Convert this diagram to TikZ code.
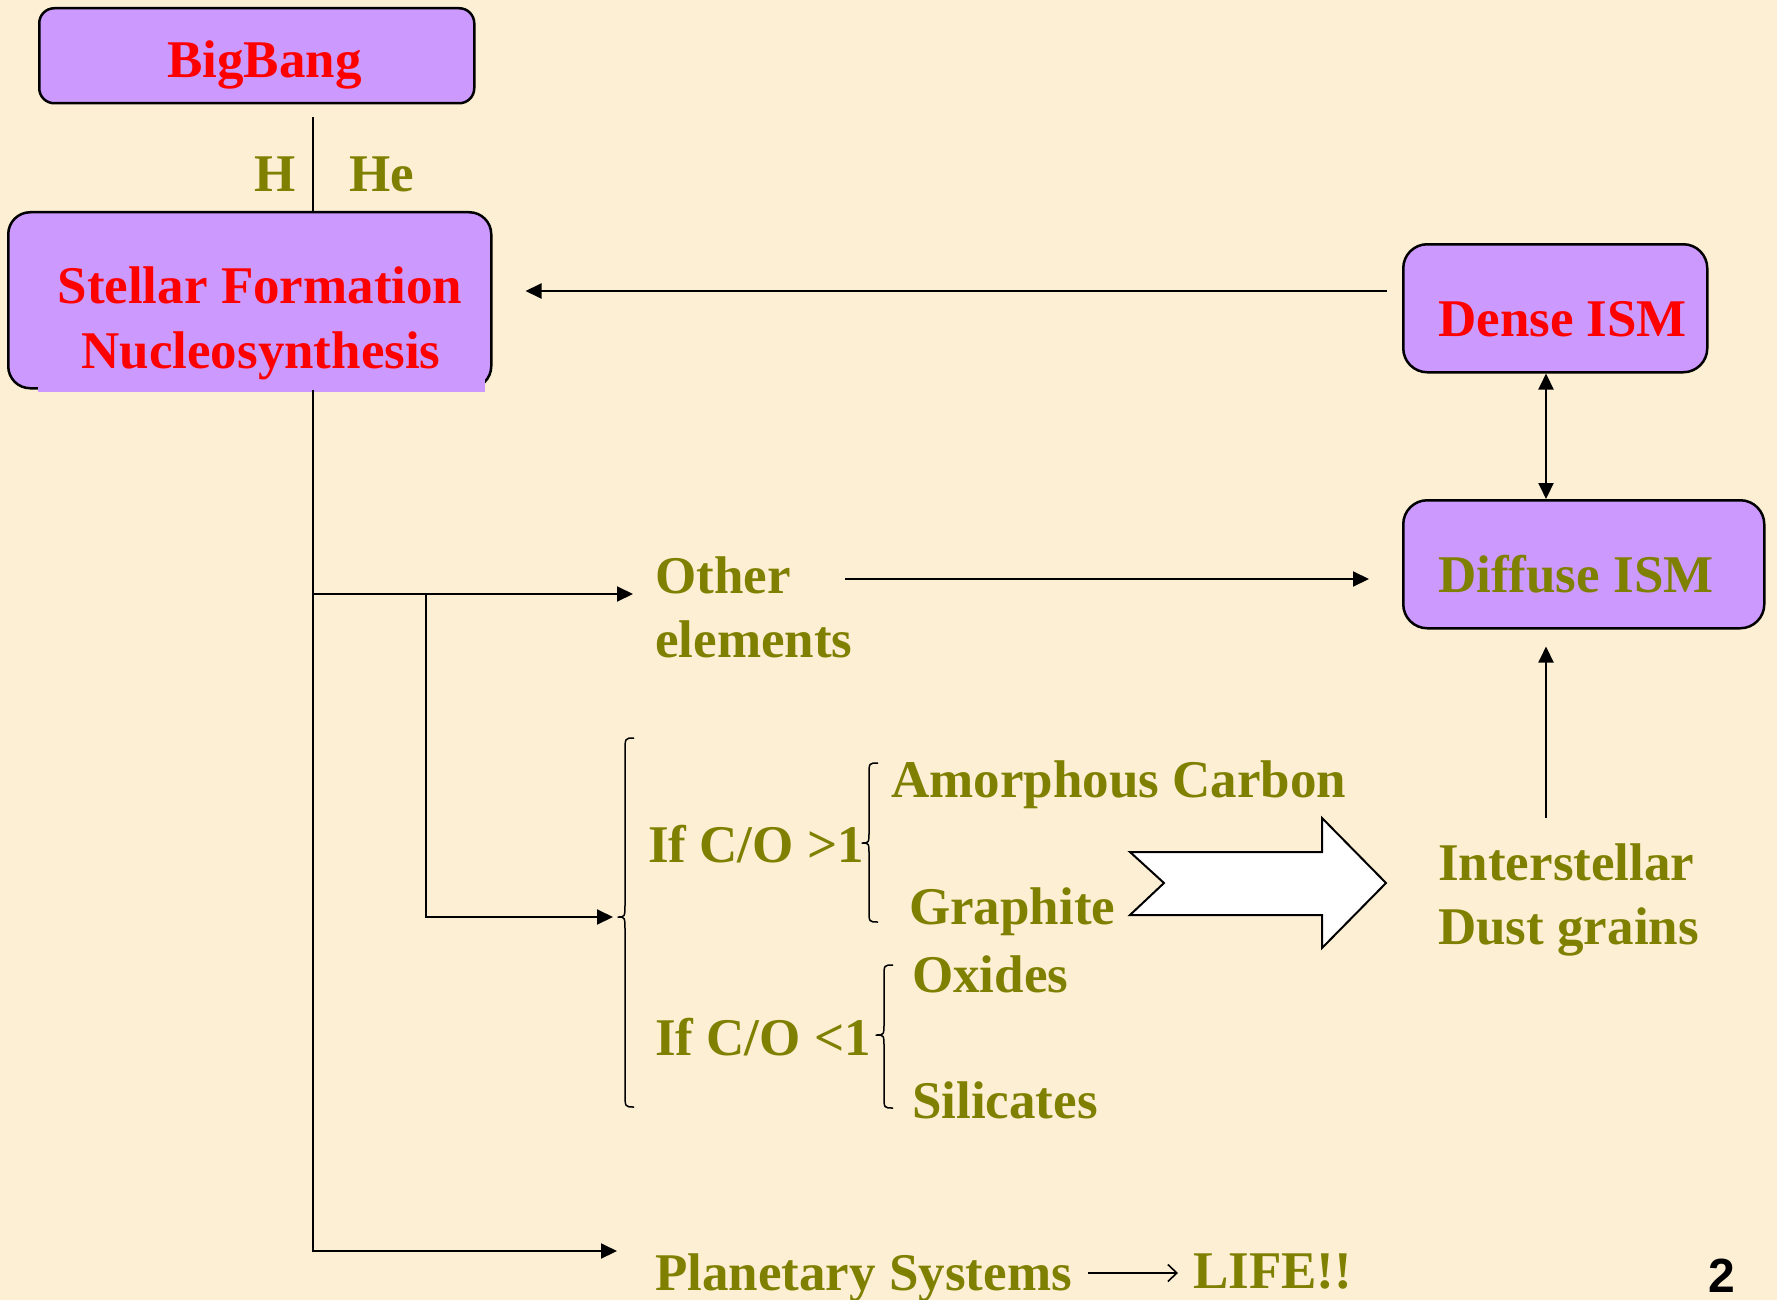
\documentclass[tikz,border=0pt]{standalone}
\usepackage{fontspec}
\setmainfont{Liberation Serif}
\setsansfont{Liberation Sans}
\usetikzlibrary{arrows.meta}
\definecolor{bgcream}{HTML}{FCEFD4}
\definecolor{boxpurple}{HTML}{CC99FF}
\definecolor{olivetext}{HTML}{808000}
\definecolor{redtext}{HTML}{FF0000}
\begin{document}
\begin{tikzpicture}[x=1pt,y=-1pt,
  box/.style={draw=black, line width=2.5pt, fill=boxpurple, inner sep=0pt, anchor=north west},
  lbl/.style={inner sep=0pt, anchor=base west, font=\fontsize{53}{64}\selectfont\bfseries},
  redlbl/.style={lbl, text=redtext},
  olvlbl/.style={lbl, text=olivetext},
  conn/.style={line width=2pt},
  arr/.style={conn, -{Triangle[length=16pt,width=15pt]}},
  dblarr/.style={conn, {Triangle[length=16pt,width=15pt]}-{Triangle[length=16pt,width=15pt]}},
  thinarr/.style={line width=1.6pt, -{Straight Barb[length=9pt,width=17pt,line width=1.6pt]}},
  bracepath/.style={line width=1.5pt, line join=round},
]
\useasboundingbox (0,0) rectangle (1777,1300);
\fill[bgcream] (0,0) rectangle (1777,1300);

% boxes
\node[box, rounded corners=15pt, minimum width=435pt, minimum height=95pt] (bigbang) at (38,7) {};
\node[box, rounded corners=22pt, minimum width=483pt, minimum height=176pt] (stellar) at (7,211) {};
\fill[boxpurple] (38,300) rectangle (485,392);
\node[box, rounded corners=24pt, minimum width=304pt, minimum height=128pt] (dense) at (1402,243) {};
\node[box, rounded corners=24pt, minimum width=361pt, minimum height=128pt] (diffuse) at (1402,499) {};

% texts
\node[redlbl] (bbText) at (167,78) {BigBang};
\node[olvlbl] (hText) at (254,192) {H};
\node[olvlbl] (heText) at (349,192) {He};
\node[redlbl, anchor=base] (stA) at (260,303) {Stellar Formation};
\node[redlbl, anchor=base] (stB) at (261,368) {Nucleosynthesis};
\node[redlbl] (denseText) at (1438,336) {Dense ISM};
\node[olvlbl] (diffText) at (1438,592) {Diffuse ISM};
\node[olvlbl] (otherA) at (655,593) {Other};
\node[olvlbl] (otherB) at (655,657) {elements};
\node[olvlbl] (coGt) at (648,862) {If C/O >1};
\node[olvlbl] (coLt) at (655,1055) {If C/O <1};
\node[olvlbl] (amorph) at (891,797) {Amorphous Carbon};
\node[olvlbl] (graph) at (909,924) {Graphite};
\node[olvlbl] (oxid) at (912,992) {Oxides};
\node[olvlbl] (silic) at (912,1118) {Silicates};
\node[olvlbl] (interA) at (1438,880) {Interstellar};
\node[olvlbl] (interB) at (1438,944) {Dust grains};
\node[olvlbl] (planA) at (655,1290) {Planetary Systems};
\node[olvlbl] (lifeA) at (1193,1288) {LIFE!!};
\node[inner sep=0pt, anchor=base west, font=\fontsize{48}{58}\selectfont\sffamily\bfseries] (pagenum) at (1708,1292) {2};

% helper coordinates
\coordinate (jOther) at (313,594);
\coordinate (jSub) at (426,594);
\coordinate (jPlan) at (313,1251);
\coordinate (braceTip) at (618,917);
\coordinate (yTop) at (0,291);
\coordinate (yOE) at (0,579);
\coordinate (xISM) at (1546,0);
\coordinate (interTop) at (1546,818);
\coordinate (yLife) at (0,1273);

% connectors
\draw[conn, shorten <=13pt] (bigbang.south -| jOther) -- (stellar.north -| jOther);
\draw[arr, shorten >=38pt] (stellar.south -| jPlan) -- (jPlan) -- (planA.west |- jPlan);
\draw[arr, shorten >=22pt] (jOther) -- (otherA.west |- jOther);
\draw[arr, shorten >=5pt] (jSub) |- (braceTip);
\draw[arr, shorten <=15pt, shorten >=33pt] (dense.west |- yTop) -- (stellar.east |- yTop);
\draw[dblarr] (dense.south -| xISM) -- (diffuse.north -| xISM);
\draw[arr, shorten <=54pt, shorten >=33pt] (otherA.east |- yOE) -- (diffuse.west |- yOE);
\draw[arr, shorten >=17pt] (interTop) -- (diffuse.south -| xISM);
\draw[thinarr, shorten <=16pt, shorten >=15pt] (planA.east |- yLife) -- (lifeA.west |- yLife);

% braces
\draw[bracepath] (634,738) .. controls (625,738) .. (625,752) -- (625,903)
  .. controls (625,917) .. (618,917) .. controls (625,917) .. (625,931)
  -- (625,1093) .. controls (625,1107) .. (634,1107);
\draw[bracepath] (878,763) .. controls (869,763) .. (869,775) -- (869,831)
  .. controls (869,843) .. (862,843) .. controls (869,843) .. (869,855)
  -- (869,910) .. controls (869,922) .. (878,922);
\draw[bracepath] (893,965) .. controls (884,965) .. (884,977) -- (884,1023)
  .. controls (884,1035) .. (876,1035) .. controls (884,1035) .. (884,1047)
  -- (884,1096) .. controls (884,1108) .. (893,1108);

% block arrow
\draw[line width=2pt, fill=white, line join=miter]
  (1130,852) -- (1322,852) -- (1322,818) -- (1386,883) -- (1322,948)
  -- (1322,915) -- (1130,915) -- (1164,883) -- cycle;
\end{tikzpicture}
\end{document}
